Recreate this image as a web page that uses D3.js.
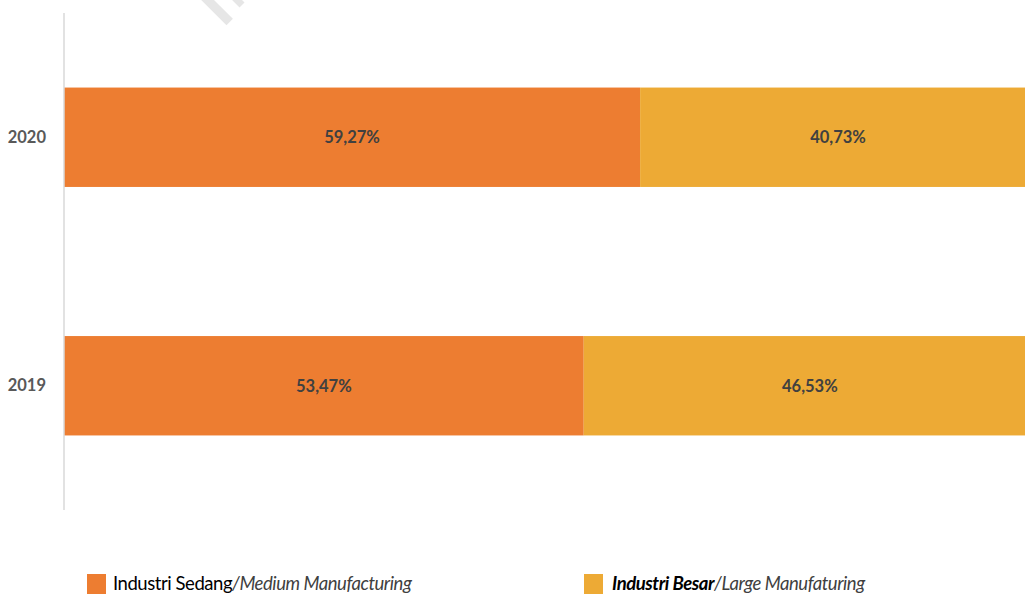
<!DOCTYPE html>
<html>
<head>
<meta charset="utf-8">
<script src="https://cdn.jsdelivr.net/npm/d3@7"></script>
<style>
  body { margin: 0; background: #fff; }
  svg { display: block; font-family: Lato, "Open Sans", sans-serif; }
</style>
</head>
<body>
<div id="chart"></div>
<script>
// data
var years = ["2020", "2019"];
var sedang = [59.27, 53.47];
var besar = [40.73, 46.53];
var seriesNames = ["Industri Sedang", "Industri Besar"];
var seriesSub = ["/Medium Manufacturing", "/Large Manufaturing"];
var colors = ["#ED7D31", "#EDAA35"];

var width = 1025, height = 594;

var svg = d3.select("#chart").append("svg")
    .attr("width", width)
    .attr("height", height);

// faint watermark strokes at the top edge (decoration only)
var wm = svg.append("g").attr("fill", "#e6e6e6");
wm.append("rect")
    .attr("transform", "translate(206,-8) rotate(45)")
    .attr("width", 38).attr("height", 9);
wm.append("rect")
    .attr("transform", "translate(236,-6) rotate(45)")
    .attr("width", 12).attr("height", 7);

// scales
var x = d3.scaleLinear().domain([0, 100]).range([64, 1036]);
var y = d3.scaleBand().domain(years).range([13, 510])
    .paddingInner(0.6).paddingOuter(0.3);

// stack the rows
var rows = years.map(function (yr, i) {
    return { year: yr, sedang: sedang[i], besar: besar[i] };
});
var stack = d3.stack().keys(["sedang", "besar"])(rows);

var layer = svg.selectAll("g.layer")
    .data(stack)
    .enter().append("g")
    .attr("class", "layer")
    .attr("fill", function (d, i) { return colors[i]; });

layer.selectAll("rect")
    .data(function (d) { return d; })
    .enter().append("rect")
    .attr("x", function (d) { return x(d[0]); })
    .attr("y", function (d) { return y(d.data.year); })
    .attr("width", function (d) { return x(d[1]) - x(d[0]); })
    .attr("height", y.bandwidth());

// value labels
layer.selectAll("text")
    .data(function (d) { return d; })
    .enter().append("text")
    .attr("x", function (d) { return (x(d[0]) + x(d[1])) / 2; })
    .attr("y", function (d) { return y(d.data.year) + y.bandwidth() / 2; })
    .attr("dy", "0.36em")
    .attr("text-anchor", "middle")
    .attr("fill", "#404040")
    .attr("font-size", 16.5)
    .attr("font-weight", "bold")
    .text(function (d) { return (d[1] - d[0]).toFixed(2).replace(".", ",") + "%"; });

// y axis
var yAxis = svg.append("g")
    .attr("transform", "translate(64,0)")
    .call(d3.axisLeft(y).tickSize(0).tickPadding(18));
yAxis.select(".domain").attr("stroke", "#d9d9d9").attr("stroke-width", 1.5)
    .attr("d", "M0,13V510");
yAxis.selectAll("text")
    .attr("fill", "#595959")
    .attr("font-size", 16.5)
    .attr("font-weight", "bold")
    .attr("font-family", "Lato, sans-serif");

// legend
var legendX = [87, 584];
var leg = svg.selectAll("g.legend")
    .data(seriesNames)
    .enter().append("g")
    .attr("class", "legend")
    .attr("transform", function (d, i) { return "translate(" + legendX[i] + ",0)"; });

leg.append("rect")
    .attr("y", 574)
    .attr("width", 19)
    .attr("height", 20)
    .attr("fill", function (d, i) { return colors[i]; });

var lt = leg.append("text")
    .attr("x", function (d, i) { return i === 0 ? 26 : 28; })
    .attr("y", 590)
    .attr("font-size", 18.5)
    .attr("letter-spacing", -0.45);

lt.append("tspan")
    .attr("fill", "#000")
    .attr("font-style", function (d, i) { return i === 1 ? "italic" : "normal"; })
    .attr("font-weight", function (d, i) { return i === 1 ? "bold" : "normal"; })
    .text(function (d) { return d; });

lt.append("tspan")
    .attr("fill", "#404040")
    .attr("font-style", "italic")
    .text(function (d, i) { return seriesSub[i]; });
</script>
</body>
</html>
